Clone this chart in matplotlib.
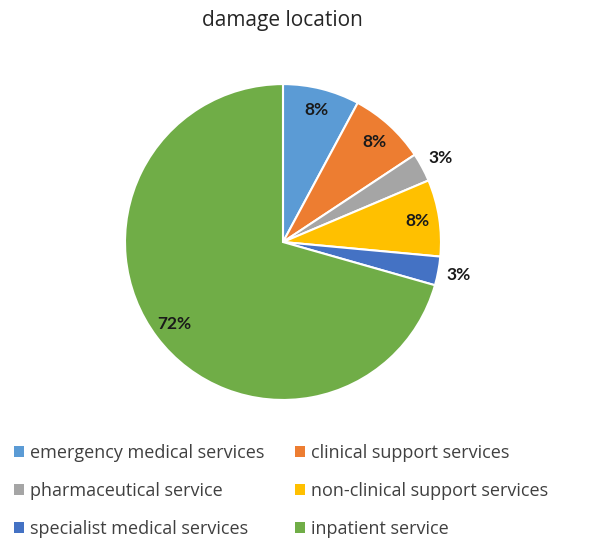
import matplotlib
matplotlib.use("Agg")
import matplotlib.pyplot as plt
from matplotlib.patches import Patch
import numpy as np

labels = ['emergency medical services', 'clinical support services', 'pharmaceutical service',
          'non-clinical support services', 'specialist medical services', 'inpatient service']
values = [8, 8, 3, 8, 3, 72]
pct_text = ['8%', '8%', '3%', '8%', '3%', '72%']
colors = ['#5B9BD5', '#ED7D31', '#A5A5A5', '#FFC000', '#4472C4', '#70AD47']

plt.rcParams['font.family'] = ['Open Sans', 'DejaVu Sans']

fig = plt.figure(figsize=(6.03, 5.4), dpi=100)
ax = fig.add_axes([0.2073, 0.2593, 0.524, 0.585])
wedges, _ = ax.pie(values, colors=colors, startangle=90, counterclock=False,
                   wedgeprops=dict(edgecolor='white', linewidth=1.5))
ax.set_xlim(-1, 1)
ax.set_ylim(-1, 1)
ax.set_aspect('auto')

# percent labels, small slices outside
for w, t, v in zip(wedges, pct_text, values):
    mid = np.deg2rad((w.theta1 + w.theta2) / 2)
    r = 1.13 if v < 5 else 0.86
    ax.text(r * np.cos(mid), r * np.sin(mid), t, ha='center', va='center',
            fontsize=12.5, fontweight='bold', color='#1a1a1a', family=['Lato', 'DejaVu Sans'])

fig.text(0.469, 0.962, 'damage location', ha='center', va='center', fontsize=15, color='#262626')

handles = [Patch(facecolor=c, edgecolor='none') for c in colors]
# two columns, filled row by row like the original
for col, x0 in [(0, -0.004), (1, 0.462)]:
    idx = [col, col + 2, col + 4]
    fig.legend([handles[i] for i in idx], [labels[i] for i in idx], loc='upper left',
               bbox_to_anchor=(x0, 0.208), frameon=False, fontsize=13,
               handlelength=0.55, handleheight=0.55, handletextpad=0.35,
               labelspacing=1.1, labelcolor='#404040')

fig.savefig('out.png', dpi=100)
